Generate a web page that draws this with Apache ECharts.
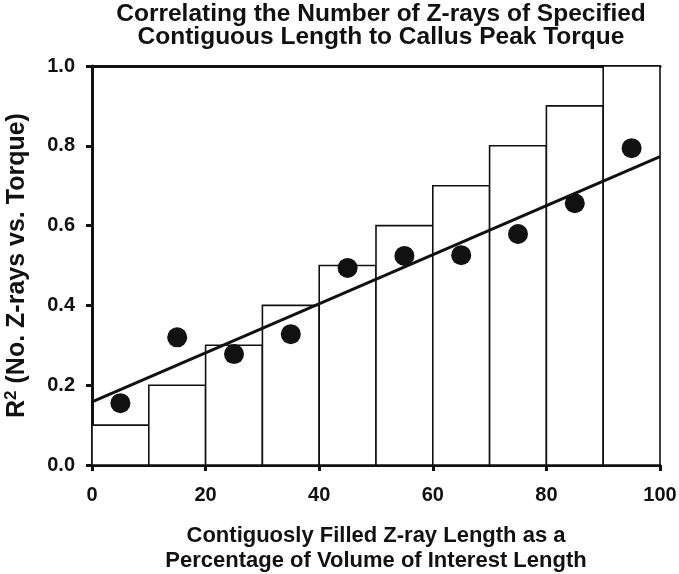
<!DOCTYPE html>
<html><head><meta charset="utf-8">
<script src="https://cdn.jsdelivr.net/npm/echarts@6/dist/echarts.min.js"></script>
<style>html,body{margin:0;padding:0;background:#fff}#c{width:679px;height:574px}</style>
</head><body><div id="c"></div>
<script>
const binStart = [0,10,20,30,40,50,60,70,80,90];
const binEnd = [10,20,30,40,50,60,70,80,90,100];
const barHeights = [0.1,0.2,0.3,0.4,0.5,0.6,0.7,0.8,0.9,1.0];
const pointX = [5,15,25,35,45,55,65,75,85,95];
const pointY = [0.155,0.32,0.278,0.328,0.494,0.524,0.526,0.579,0.656,0.794];
const trendX = [0,100];
const trendY = [0.158,0.773];
const xTicks = ['0','20','40','60','80','100'];
const yTicks = ['0.0','0.2','0.4','0.6','0.8','1.0'];

const FONT = "'Liberation Sans', Arial, sans-serif";
const chart = echarts.init(document.getElementById('c'), null, {renderer:'canvas'});
const barData = binStart.map((s,i)=>[s, binEnd[i], barHeights[i]]);
const ptData = pointX.map((x,i)=>[x, pointY[i]]);
const lineData = trendX.map((x,i)=>[x, trendY[i]]);

chart.setOption({
  animation:false,
  backgroundColor:'#fff',
  title:{
    text:'Correlating the Number of Z-rays of Specified\nContiguous Length to Callus Peak Torque',
    left:376, top:-2, textAlign:'center',
    textStyle:{fontFamily:FONT, fontWeight:'bold', fontSize:24.5, lineHeight:22.5, color:'#111'}
  },
  grid:{left:92, right:19, top:66, bottom:109, containLabel:false, outerBoundsMode:'none'},
  xAxis:[{
    type:'value', min:0, max:100, interval:20,
    name:'Contiguosly Filled Z-ray Length as a\nPercentage of Volume of Interest Length',
    nameLocation:'middle', nameGap:58,
    nameTextStyle:{fontFamily:FONT, fontWeight:'bold', fontSize:22, lineHeight:25, color:'#111'},
    axisLine:{show:true, onZero:false, lineStyle:{color:'#111', width:3}},
    axisTick:{show:true, length:6, lineStyle:{color:'#111', width:3}},
    splitLine:{show:false},
    axisLabel:{margin:20, fontFamily:FONT, fontWeight:'bold', fontSize:20, color:'#111',
      formatter:(v)=>xTicks[Math.round(v/20)]}
  },{
    type:'value', min:0, max:100, position:'top',
    axisLine:{show:true, onZero:false, lineStyle:{color:'#111', width:3}},
    axisTick:{show:false}, axisLabel:{show:false}, splitLine:{show:false}
  }],
  yAxis:{
    type:'value', min:0, max:1, interval:0.2,
    name:'{r|R}{s|2}{r| (No. Z-rays vs. Torque)}',
    nameLocation:'middle', nameGap:60, nameRotate:90,
    nameTextStyle:{
      rich:{
        r:{fontFamily:FONT, fontWeight:'bold', fontSize:25, color:'#111'},
        s:{fontFamily:FONT, fontWeight:'bold', fontSize:17, color:'#111', padding:[0,0,12,0]}
      }
    },
    axisLine:{show:true, lineStyle:{color:'#111', width:3}},
    axisTick:{show:true, length:6, lineStyle:{color:'#111', width:3}},
    splitLine:{show:false},
    axisLabel:{margin:17, fontFamily:FONT, fontWeight:'bold', fontSize:20, color:'#111',
      formatter:(v)=>yTicks[Math.round(v/0.2)]}
  },
  series:[
    {
      type:'custom', z:1, data:barData,
      renderItem:(params, api)=>{
        const p0 = api.coord([api.value(0), api.value(2)]);
        const p1 = api.coord([api.value(1), 0]);
        return {type:'rect', shape:{x:p0[0], y:p0[1], width:p1[0]-p0[0], height:p1[1]-p0[1]},
          style:{fill:'#fff', stroke:'#111', lineWidth:1.6}};
      }
    },
    {
      type:'line', z:3, data:lineData, symbol:'none',
      lineStyle:{color:'#111', width:3}
    },
    {
      type:'scatter', z:4, data:ptData, symbol:'circle', symbolSize:20,
      itemStyle:{color:'#111', opacity:1}
    }
  ]
});
</script></body></html>
